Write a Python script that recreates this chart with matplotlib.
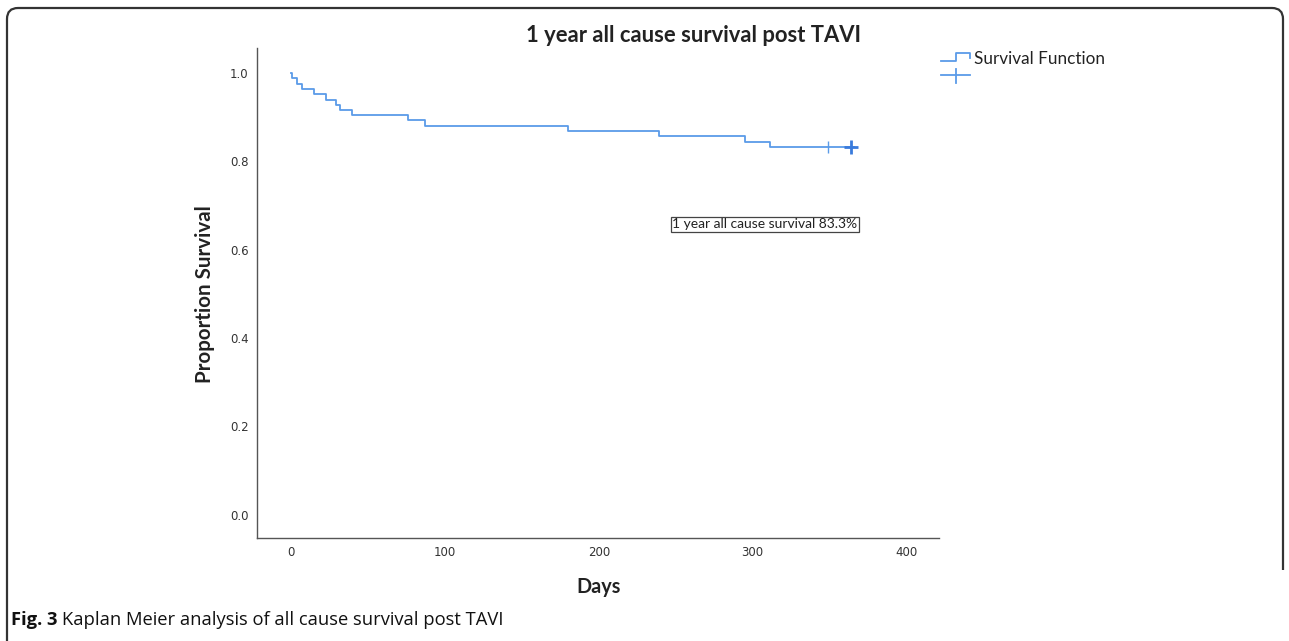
import matplotlib
matplotlib.use("Agg")
import matplotlib.pyplot as plt
from matplotlib.path import Path
from matplotlib.patches import PathPatch
from matplotlib.lines import Line2D

# ---- data ----
times = [0, 1, 4, 7, 15, 23, 29, 32, 40, 76, 87, 180, 239, 295, 311, 366]
surv = [1.0, 0.988, 0.976, 0.964, 0.952, 0.940, 0.929, 0.917, 0.905,
        0.893, 0.881, 0.869, 0.857, 0.845, 0.833, 0.833]
censor_small = [349]
censor_big = [364]
censor_value = 0.833
x_ticks = [0, 100, 200, 300, 400]
y_ticks = [0.0, 0.2, 0.4, 0.6, 0.8, 1.0]
title = "1 year all cause survival post TAVI"
xlabel = "Days"
ylabel = "Proportion Survival"
legend_label = "Survival Function"
note = "1 year all cause survival 83.3%"
note_pos = (308, 0.658)

W, H = 1289, 641
fig = plt.figure(figsize=(W / 100, H / 100), dpi=100)
fig.patch.set_facecolor("white")

def fx(px):
    return px / W

def fy(py):
    return 1 - py / H

ax = fig.add_axes([fx(257), fy(538), fx(939) - fx(257), fy(48) - fy(538)])
line_c = "#5b9be8"
ax.step(times, surv, where="post", color=line_c, lw=1.3)
ax.plot(censor_small, [censor_value] * len(censor_small), ls="none",
        marker="|", ms=8, mew=1.0, color=line_c)
ax.plot(censor_big, [censor_value] * len(censor_big), ls="none",
        marker="+", ms=10, mew=2.0, color="#3a7bdc")

ax.set_xlim(-22, 421)
ax.set_ylim(-0.053, 1.057)
ax.set_xticks(x_ticks)
ax.set_yticks(y_ticks)
ax.set_xticklabels([str(t) for t in x_ticks])
ax.set_yticklabels([f"{t:.1f}" for t in y_ticks])
ax.tick_params(length=0, labelsize=8.5, labelcolor="#333333", pad=6)
for s in ["top", "right"]:
    ax.spines[s].set_visible(False)
for s in ["left", "bottom"]:
    ax.spines[s].set_color("#555555")
    ax.spines[s].set_linewidth(1.0)

ax.text(note_pos[0], note_pos[1], note, ha="center", va="center",
        fontsize=10, family="Lato", color="#222222",
        bbox=dict(boxstyle="square,pad=0.1", fc="white", ec="#444444", lw=0.9))

# titles / labels
fig.text(fx(694), fy(35), title, ha="center", va="center",
         fontsize=15.8, fontweight="bold", family="Lato", color="#222222")
fig.text(fx(599), fy(587), xlabel, ha="center", va="center",
         fontsize=14.3, fontweight="bold", family="Lato", color="#222222")
fig.text(fx(205), fy(294), ylabel, ha="center", va="center", rotation=90,
         fontsize=14.8, fontweight="bold", family="Lato", color="#222222")

# legend (drawn manually, outside axes)
fig.add_artist(Line2D([fx(941), fx(956), fx(956), fx(970), fx(970)],
                      [fy(61), fy(61), fy(53.3), fy(53.3), fy(58.3)],
                      color=line_c, lw=1.3))
fig.add_artist(Line2D([fx(941), fx(970)], [fy(75), fy(75)], color=line_c, lw=1.3))
fig.add_artist(Line2D([fx(956), fx(956)], [fy(69), fy(83)], color=line_c, lw=1.3))
fig.text(fx(974), fy(59), legend_label, ha="left", va="center",
         fontsize=12.3, family="Lato", color="#222222")

# caption
cap1 = fig.text(fx(11), fy(620), "Fig. 3", ha="left", va="center",
                fontsize=13.2, fontweight="bold", family="Open Sans", color="#111111")
fig.canvas.draw()
bb = cap1.get_window_extent()
fig.text(bb.x1 / W + 5 / W, fy(620), "Kaplan Meier analysis of all cause survival post TAVI",
         ha="left", va="center", fontsize=13.2, family="Open Sans", color="#111111")

# rounded border
r = 11
verts = [(7, 641), (7, 8 + r), (7, 8), (7 + r, 8), (1283 - r, 8), (1283, 8),
         (1283, 8 + r), (1283, 570)]
codes = [Path.MOVETO, Path.LINETO, Path.CURVE3, Path.CURVE3, Path.LINETO,
         Path.CURVE3, Path.CURVE3, Path.LINETO]
verts = [(fx(x), fy(y)) for x, y in verts]
fig.add_artist(PathPatch(Path(verts, codes), fill=False, ec="#333333", lw=1.6,
                         transform=fig.transFigure))

fig.savefig("out.png", dpi=100, facecolor="white")
